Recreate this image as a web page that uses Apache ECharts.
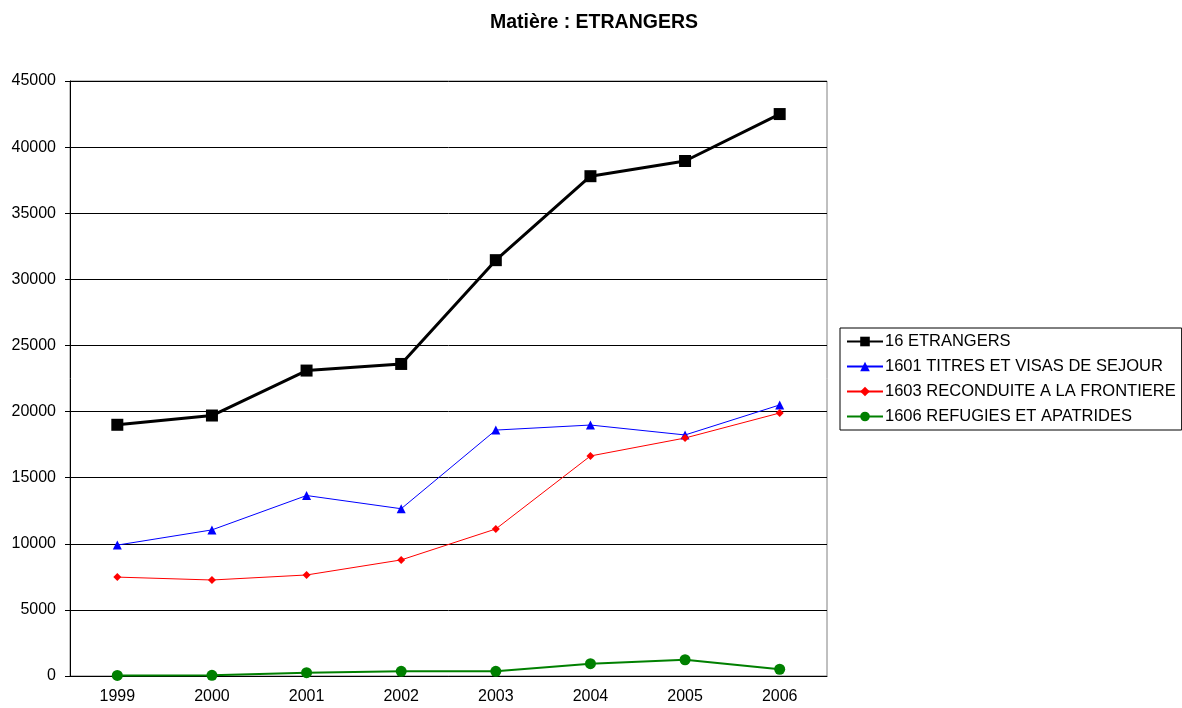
<!DOCTYPE html>
<html>
<head>
<meta charset="utf-8">
<script src="https://cdn.jsdelivr.net/npm/echarts@6/dist/echarts.min.js"></script>
<style>
html,body{margin:0;padding:0;background:#fff;}
#chart{width:1182px;height:708px;}
</style>
</head>
<body>
<div id="chart"></div>
<script>
const categories = ['1999','2000','2001','2002','2003','2004','2005','2006'];
const etrangers = [19000, 19700, 23100, 23600, 31450, 37800, 38950, 42500];
const titresVisas = [9900, 11050, 13650, 12650, 18600, 18980, 18230, 20500];
const reconduite = [7480, 7260, 7640, 8780, 11120, 16640, 18000, 19890];
const refugies = [40, 50, 250, 355, 355, 930, 1230, 510];
const seriesNames = ['16 ETRANGERS','1601 TITRES ET VISAS DE SEJOUR','1603 RECONDUITE A LA FRONTIERE','1606 REFUGIES ET APATRIDES'];

const chart = echarts.init(document.getElementById('chart'));
const font = 'Liberation Sans, Arial, sans-serif';
chart.setOption({
  animation: false,
  backgroundColor: '#fff',
  title: {
    text: 'Matière : ETRANGERS',
    left: 589, top: 8, textAlign: 'center',
    textStyle: {fontFamily: font, fontSize: 19.5, fontWeight: 'bold', color: '#000'}
  },
  legend: {
    orient: 'vertical',
    left: 840, top: 328,
    itemWidth: 36, itemHeight: 12, itemGap: 8,
    padding: [5, 6, 5, 6],
    borderColor: '#000', borderWidth: 1,
    textStyle: {fontFamily: font, fontSize: 16.5, lineHeight: 17, color: '#000', padding: [0,0,0,-3]},
    data: seriesNames
  },
  grid: {left: 70, right: 355, top: 81, bottom: 32, show: true, borderColor: '#808080', borderWidth: 1},
  xAxis: {
    type: 'category', data: categories, boundaryGap: true,
    axisLine: {lineStyle: {color: '#000', width: 1}},
    axisTick: {inside: true, length: 5, lineStyle: {color: '#000'}},
    axisLabel: {fontFamily: font, fontSize: 16, color: '#000', margin: 13}
  },
  yAxis: {
    type: 'value', min: 0, max: 45000, interval: 5000,
    axisLine: {show: true, lineStyle: {color: '#000', width: 1}},
    axisTick: {show: true, length: 5, lineStyle: {color: '#000'}},
    axisLabel: {fontFamily: font, fontSize: 16, color: '#000', margin: 14, formatter: v => String(v)},
    splitLine: {lineStyle: {color: '#000', width: 1}}
  },
  series: [
    {name: seriesNames[0], type: 'line', data: etrangers, symbol: 'rect', symbolSize: 12,
     lineStyle: {color: '#000', width: 3}, itemStyle: {color: '#000'}},
    {name: seriesNames[1], type: 'line', data: titresVisas, symbol: 'triangle', symbolSize: 9,
     lineStyle: {color: '#0000ff', width: 1}, itemStyle: {color: '#0000ff'}},
    {name: seriesNames[2], type: 'line', data: reconduite, symbol: 'diamond', symbolSize: 8,
     lineStyle: {color: '#ff0000', width: 1}, itemStyle: {color: '#ff0000'}},
    {name: seriesNames[3], type: 'line', data: refugies, symbol: 'circle', symbolSize: 11,
     lineStyle: {color: '#008000', width: 2}, itemStyle: {color: '#008000'}}
  ]
});
</script>
</body>
</html>
